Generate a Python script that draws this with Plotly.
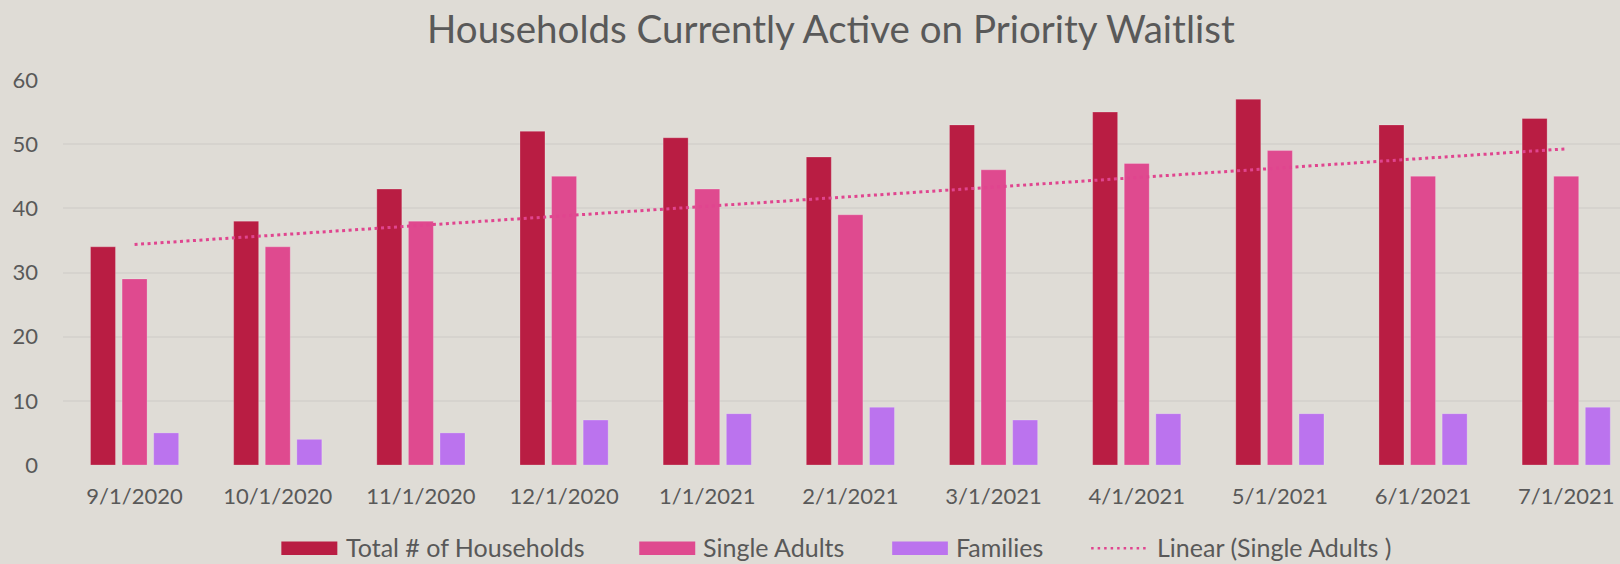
import numpy as np
import plotly.graph_objects as go

# ---------------- data ----------------
categories = ["9/1/2020", "10/1/2020", "11/1/2020", "12/1/2020", "1/1/2021", "2/1/2021",
              "3/1/2021", "4/1/2021", "5/1/2021", "6/1/2021", "7/1/2021"]
total_households = [34, 38, 43, 52, 51, 48, 53, 55, 57, 53, 54]
single_adults = [29, 34, 38, 45, 43, 39, 46, 47, 49, 45, 45]
families = [5, 4, 5, 7, 8, 9, 7, 8, 8, 8, 9]
y_ticks = [0, 10, 20, 30, 40, 50, 60]
series_names = ["Total # of Households", "Single Adults", "Families", "Linear (Single Adults )"]
title_text = "Households Currently Active on Priority Waitlist"

# linear trendline of Single Adults (as Excel does)
idx = np.arange(len(single_adults))
slope, intercept = np.polyfit(idx, single_adults, 1)
trend = (slope * idx + intercept).tolist()

# ---------------- style ----------------
W, H = 1620, 564
L, R, T, B = 62.6, 0, 79.5, 98.5
PW, PH = W - L - R, H - T - B
BG = "#DFDCD6"
GRID = "#D6D3CE"
TXT = "#595959"
FONT = "Lato"
C_TOTAL = "#B91D43"
C_SINGLE = "#DF4A8F"
C_FAM = "#BB73EE"
C_TREND = "#E0458F"


def px_x(x):
    return (x - L) / PW


def px_y(y):
    return (H - B - y) / PH


fig = go.Figure()
outline = dict(width=1, color="rgba(255,255,255,0.22)")
fig.add_trace(go.Bar(x=categories, y=total_households, name=series_names[0],
                     marker=dict(color=C_TOTAL, line=outline)))
fig.add_trace(go.Bar(x=categories, y=single_adults, name=series_names[1],
                     marker=dict(color=C_SINGLE, line=outline)))
fig.add_trace(go.Bar(x=categories, y=families, name=series_names[2],
                     marker=dict(color=C_FAM, line=outline)))
fig.add_trace(go.Scatter(x=categories, y=trend, name=series_names[3], mode="lines",
                         line=dict(color=C_TREND, width=3, dash="3px,3.5px")))

fig.update_layout(
    width=W, height=H,
    margin=dict(l=L, r=R, t=T, b=B, autoexpand=False),
    paper_bgcolor=BG, plot_bgcolor=BG,
    barmode="group", bargap=0.338, bargroupgap=0.209,
    showlegend=False,
    font=dict(family=FONT, color=TXT, size=22),
    xaxis=dict(type="category", range=[-0.5, -0.5 + PW / 143.2],
               showgrid=False, zeroline=False, showline=False, ticks="",
               tickfont=dict(family=FONT, size=22, color=TXT),
               ticklabelstandoff=16),
    yaxis=dict(range=[0, 60], tickvals=y_ticks, showgrid=True, gridcolor=GRID, gridwidth=1.5,
               zeroline=False, showline=False, ticks="",
               tickfont=dict(family=FONT, size=22, color=TXT),
               ticklabelstandoff=24),
)

# title
fig.add_annotation(text=title_text, xref="paper", yref="paper",
                   x=px_x(830.5), y=px_y(27), xanchor="center", yanchor="middle",
                   showarrow=False, font=dict(family=FONT, size=38.5, color=TXT))

# custom legend (wide swatches like the original)
sw = [(281, 337, C_TOTAL), (639, 695, C_SINGLE), (892, 947.7, C_FAM)]
for x0, x1, c in sw:
    fig.add_shape(type="rect", xref="paper", yref="paper",
                  x0=px_x(x0), x1=px_x(x1), y0=px_y(555.7), y1=px_y(542.3),
                  fillcolor=c, line=dict(width=0))
fig.add_shape(type="line", xref="paper", yref="paper",
              x0=px_x(1091), x1=px_x(1146.7), y0=px_y(549), y1=px_y(549),
              line=dict(color=C_TREND, width=2.5, dash="2.5px,4px"))
for xs, name in zip([343.3, 700.7, 954.3, 1155], series_names):
    fig.add_annotation(text=name, xref="paper", yref="paper",
                       x=px_x(xs), y=px_y(548), xanchor="left", yanchor="middle",
                       showarrow=False, font=dict(family=FONT, size=25, color=TXT))

fig.write_html("out.html", config={"displayModeBar": False},
               post_script="document.body.style.margin='0';document.body.style.overflow='hidden';")
